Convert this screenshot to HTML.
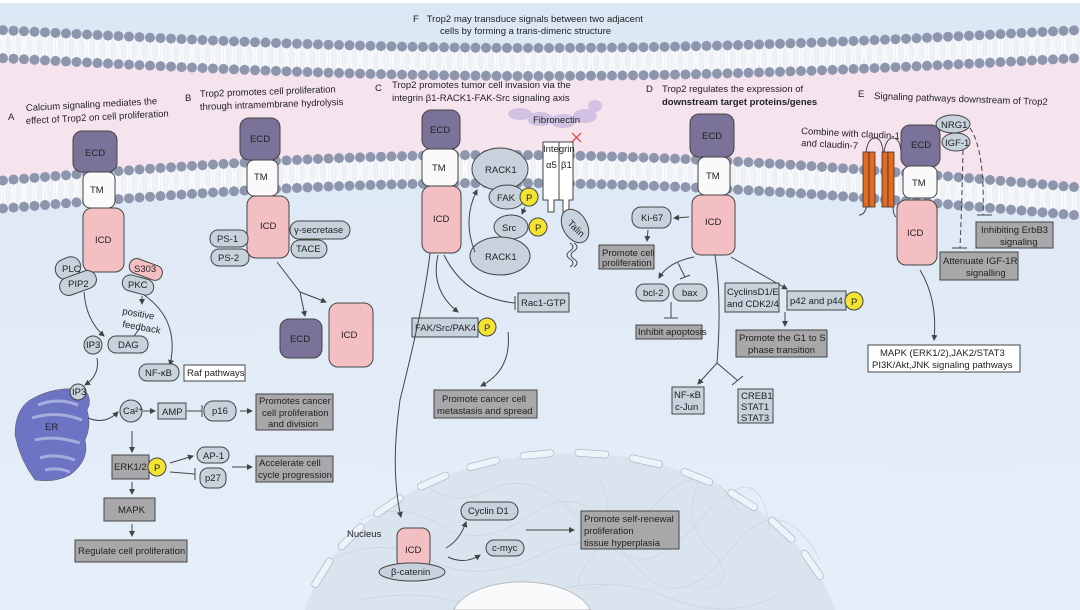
<!DOCTYPE html>
<html><head><meta charset="utf-8"><style>
html,body{margin:0;padding:0;background:#e2ecf7;width:1080px;height:610px;overflow:hidden}
svg{display:block}
text{font-family:"Liberation Sans",sans-serif;font-size:9.5px;fill:#222}
.p{fill:#c7d2dd;stroke:#444;stroke-width:1}
.g{fill:#a8a8aa;stroke:#444;stroke-width:1}
.w{fill:#fff;stroke:#444;stroke-width:1}
.e{fill:#7b7299;stroke:#444;stroke-width:1}
.t{fill:#fafafa;stroke:#444;stroke-width:1}
.i{fill:#f3bfc3;stroke:#444;stroke-width:1}
.y{fill:#f4e431;stroke:#444;stroke-width:1}
.l{fill:none;stroke:#444;stroke-width:1}
</style></head><body>
<svg id="s" width="1080" height="610" viewBox="0 0 1080 610" xmlns="http://www.w3.org/2000/svg">
<defs>
<marker id="a" markerWidth="6" markerHeight="6" refX="5" refY="3" orient="auto"><path d="M0,0 L6,3 L0,6 z" fill="#444"/></marker>
<linearGradient id="bg" x1="0" y1="0" x2="0" y2="1"><stop offset="0" stop-color="#dbe7f4"/><stop offset="1" stop-color="#e6eff9"/></linearGradient>
</defs>
<rect width="1080" height="610" fill="url(#bg)"/>
<rect x="0" y="0" width="1080" height="3" fill="#fff"/>
<path id="pink" fill="#f5e4ee" d=""/>
<g id="mem"></g>
<!-- nucleus -->
<path d="M304.4,610 A275,212 0 0,1 835.6,610 Z" fill="#d6e0eb" opacity="0.75"/>
<g stroke="#c8d2de" stroke-width="0.7" fill="none" opacity="0.9">
<path d="M360,520 q40,-20 80,5 t90,-10 t80,20 t90,-15 t70,10"/><path d="M330,560 q50,-25 100,0 t110,-5 t100,15 t90,-20 t90,10"/><path d="M420,480 q30,30 70,10 t80,20 t90,-10 t80,15"/><path d="M360,600 q50,-10 90,0 t100,-8 t120,6 t110,-4"/><path d="M600,480 q20,40 -10,80 t15,25"/><path d="M700,480 q-20,40 10,70 t-5,40"/>
</g>
<path d="M453.7,610 A70,36 0 0,1 590.3,610 Z" fill="#f8fafc" stroke="#bbb"/>
<g id="nuc" fill="#eef3f9" stroke="#b3bcc8" stroke-width="0.8"></g>
<!-- F title -->
<text x="413" y="22">F&#160;&#160;&#160;Trop2 may transduce signals between two adjacent</text>
<text x="440" y="34">cells by forming a trans-dimeric structure</text>
<!-- A -->
<text x="8" y="120">A</text>
<text x="26" y="111" transform="rotate(-3 26 111)">Calcium signaling mediates the</text>
<text x="26" y="124" transform="rotate(-3 26 124)">effect of Trop2 on cell proliferation</text>
<rect class="e" x="73" y="131" width="44" height="41" rx="9"/><text x="85" y="156">ECD</text>
<rect class="t" x="83" y="172" width="32" height="36" rx="7"/><text x="90" y="193">TM</text>
<rect class="i" x="83" y="208" width="41" height="64" rx="9"/><text x="95" y="243">ICD</text>
<rect class="p" x="55" y="258" width="26" height="20" rx="10" transform="rotate(-25 68 268)"/><text x="62" y="272" font-size="8.5">PLC</text>
<rect class="p" x="59" y="274" width="38" height="18" rx="9" transform="rotate(-20 78 283)"/><text x="68" y="287" font-size="8.5">PIP2</text>
<rect class="i" x="129" y="262" width="34" height="15" rx="7" transform="rotate(20 146 269)"/><text x="134" y="272" font-size="8.5">S303</text>
<rect class="p" x="122" y="277" width="32" height="16" rx="8" transform="rotate(15 138 285)"/><text x="128" y="288" font-size="8.5">PKC</text>
<path class="l" d="M84,292 Q86,320 104,336" marker-end="url(#a)"/>
<path class="l" d="M144,295 Q180,320 170,365" marker-end="url(#a)"/>
<path class="l" d="M142,296 L142,304" marker-end="url(#a)"/>
<text x="122" y="314" font-size="8.5" transform="rotate(10 122 314)">positive</text>
<text x="122" y="327" font-size="8.5" transform="rotate(10 122 327)">feedback</text>
<circle class="p" cx="93" cy="345" r="9"/><text x="86" y="348" font-size="7.5">IP3</text>
<rect class="p" x="108" y="336" width="40" height="17" rx="8"/><text x="118" y="348">DAG</text>
<path class="l" d="M134,336 L140,328"/>
<path class="l" d="M97,358 Q100,375 85,385" marker-end="url(#a)"/>
<rect class="p" x="139" y="364" width="40" height="17" rx="8"/><text x="145" y="376">NF-κB</text>
<rect class="w" x="184" y="365" width="61" height="16"/><text x="187" y="376">Raf pathways</text>
<path fill="#6e74c4" stroke="#555" stroke-width="0.5" d="M30,400 q25,-15 55,-10 q8,10 2,20 q5,15 -2,30 q5,20 -15,35 q-15,8 -35,5 q-15,-20 -20,-45 q0,-25 15,-35z"/>
<g stroke="#a6acde" stroke-width="3" fill="none"><path d="M38,405 q20,-8 40,0"/><path d="M32,418 q25,-8 50,2"/><path d="M35,440 q20,-5 45,3"/><path d="M40,458 q15,-5 35,2"/><path d="M45,470 q12,-3 25,2"/></g>
<text x="45" y="430" fill="#222">ER</text>
<circle class="p" cx="78" cy="392" r="8"/><text x="72" y="395" font-size="7">IP3</text>
<path class="l" d="M88,418 Q105,425 118,412" marker-end="url(#a)"/>
<circle class="p" cx="131" cy="411" r="11"/><text x="123" y="414" font-size="8">Ca²⁺</text>
<path class="l" d="M143,411 L155,411" marker-end="url(#a)"/>
<rect class="p" x="158" y="403" width="28" height="16"/><text x="162" y="415">AMP</text>
<path class="l" d="M187,411 L202,411 M202,405 L202,417"/>
<rect class="p" x="204" y="401" width="32" height="20" rx="9"/><text x="212" y="414">p16</text>
<path class="l" d="M240,411 L252,411" marker-end="url(#a)"/>
<rect class="g" x="256" y="394" width="77" height="36"/><text x="259" y="404">Promotes cancer</text><text x="262" y="416">cell proliferation</text><text x="268" y="427">and division</text>
<path class="l" d="M132,431 L132,452" marker-end="url(#a)"/>
<rect class="g" x="112" y="455" width="37" height="24"/><text x="114" y="470">ERK1/2</text>
<circle class="y" cx="157" cy="467" r="9"/><text x="154" y="471">P</text>
<path class="l" d="M170,463 L193,456" marker-end="url(#a)"/>
<path class="l" d="M170,472 L195,474 M195,468 L195,480"/>
<rect class="p" x="197" y="447" width="32" height="16" rx="8"/><text x="203" y="459">AP-1</text>
<rect class="p" x="200" y="468" width="26" height="20" rx="8"/><text x="205" y="481">p27</text>
<path class="l" d="M232,467 L252,467" marker-end="url(#a)"/>
<rect class="g" x="256" y="456" width="77" height="26"/><text x="259" y="466">Accelerate cell</text><text x="258" y="478">cycle progression</text>
<path class="l" d="M132,482 L132,494" marker-end="url(#a)"/>
<rect class="g" x="104" y="498" width="51" height="23"/><text x="118" y="513">MAPK</text>
<path class="l" d="M132,524 L132,536" marker-end="url(#a)"/>
<rect class="g" x="75" y="540" width="112" height="22"/><text x="78" y="554">Regulate cell proliferation</text>
<!-- B -->
<text x="185" y="101">B</text>
<text x="200" y="97" transform="rotate(-2 200 97)">Trop2 promotes cell proliferation</text>
<text x="200" y="110" transform="rotate(-2 200 110)">through intramembrane hydrolysis</text>
<rect class="e" x="240" y="118" width="40" height="42" rx="9"/><text x="250" y="142">ECD</text>
<rect class="t" x="247" y="160" width="31" height="36" rx="7"/><text x="254" y="180">TM</text>
<rect class="i" x="247" y="196" width="42" height="62" rx="9"/><text x="260" y="229">ICD</text>
<rect class="p" x="210" y="230" width="38" height="17" rx="8"/><text x="217" y="242">PS-1</text>
<rect class="p" x="211" y="249" width="38" height="17" rx="8"/><text x="218" y="261">PS-2</text>
<rect class="p" x="290" y="221" width="60" height="18" rx="9"/><text x="294" y="233">γ-secretase</text>
<rect class="p" x="291" y="240" width="36" height="18" rx="9"/><text x="296" y="252">TACE</text>
<path class="l" d="M277,262 L300,292 L305,316" marker-end="url(#a)"/>
<path class="l" d="M300,292 L326,302" marker-end="url(#a)"/>
<rect class="e" x="280" y="319" width="42" height="39" rx="9"/><text x="290" y="342">ECD</text>
<rect class="i" x="329" y="303" width="44" height="64" rx="9"/><text x="341" y="338">ICD</text>
<!-- C -->
<text x="375" y="91">C</text>
<text x="392" y="88">Trop2 promotes tumor cell invasion via the</text>
<text x="392" y="101">integrin β1-RACK1-FAK-Src signaling axis</text>
<g fill="#cbbde3" opacity="0.85"><ellipse cx="520" cy="114" rx="12" ry="6"/><ellipse cx="540" cy="119" rx="13" ry="7"/><ellipse cx="563" cy="121" rx="13" ry="7"/><ellipse cx="585" cy="116" rx="12" ry="7"/><ellipse cx="595" cy="106" rx="7" ry="6"/></g>
<text x="533" y="123">Fibronectin</text>
<path d="M572,133 L581,142 M581,133 L572,142" stroke="#e33" stroke-width="1.2"/>
<rect class="e" x="422" y="110" width="38" height="39" rx="9"/><text x="430" y="133">ECD</text>
<rect class="t" x="422" y="149" width="36" height="37" rx="7"/><text x="432" y="171">TM</text>
<rect class="i" x="422" y="186" width="39" height="67" rx="9"/><text x="433" y="222">ICD</text>
<ellipse class="p" cx="500" cy="169" rx="28" ry="21"/><text x="485" y="173">RACK1</text>
<ellipse class="p" cx="507" cy="197" rx="18" ry="12"/><text x="497" y="201">FAK</text>
<circle class="y" cx="529" cy="197" r="9"/><text x="526" y="201">P</text>
<path class="l" d="M525,207 L522,214" marker-end="url(#a)"/>
<ellipse class="p" cx="511" cy="227" rx="17" ry="12"/><text x="502" y="231">Src</text>
<circle class="y" cx="538" cy="227" r="9"/><text x="535" y="231">P</text>
<ellipse class="p" cx="500" cy="256" rx="30" ry="19"/><text x="485" y="260">RACK1</text>
<path class="l" d="M475,252 Q462,220 477,190" marker-end="url(#a)"/>
<path fill="#fff" stroke="#444" d="M543,142 h16 v58 h-5 v12 h-6 v-12 h-5z"/>
<path fill="#fff" stroke="#444" d="M559,142 h14 v58 h-4 v12 h-6 v-12 h-4z"/>
<text x="543" y="152" font-size="9">Integrin</text>
<text x="546" y="168" font-size="9">α5</text><text x="561" y="168" font-size="9">β1</text>
<ellipse class="p" cx="575" cy="226" rx="12" ry="18" transform="rotate(-30 575 226)"/><text x="567" y="228" font-size="8" transform="rotate(45 572 226)">Talin</text>
<path class="l" d="M570,243 q6,4 0,8 q-6,4 0,8 q6,4 0,8 M574,243 q6,4 0,8 q-6,4 0,8 q6,4 0,8"/>
<path class="l" d="M438,255 Q430,290 458,312" marker-end="url(#a)"/>
<path class="l" d="M444,255 Q465,298 515,303 M515,296 L515,310"/>
<rect class="p" x="518" y="293" width="51" height="19"/><text x="521" y="306">Rac1-GTP</text>
<rect class="p" x="412" y="318" width="66" height="19"/><text x="415" y="331">FAK/Src/PAK4</text>
<circle class="y" cx="487" cy="327" r="9"/><text x="484" y="331">P</text>
<path class="l" d="M508,332 Q512,370 481,386" marker-end="url(#a)"/>
<rect class="g" x="434" y="390" width="103" height="28"/><text x="442" y="402">Promote cancer cell</text><text x="437" y="414">metastasis and spread</text>
<path class="l" d="M430,253 Q425,300 400,400 Q390,470 401,517" marker-end="url(#a)"/>
<!-- nucleus content -->
<text x="347" y="537">Nucleus</text>
<rect class="i" x="397" y="528" width="33" height="40" rx="8"/><text x="405" y="553">ICD</text>
<ellipse class="p" cx="412" cy="572" rx="33" ry="9"/><text x="391" y="575">β-catenin</text>
<path class="l" d="M446,548 Q460,540 466,522" marker-end="url(#a)"/>
<path class="l" d="M448,557 Q465,565 480,555" marker-end="url(#a)"/>
<rect class="p" x="461" y="502" width="57" height="18" rx="9"/><text x="468" y="514">Cyclin D1</text>
<rect class="p" x="486" y="540" width="38" height="16" rx="8"/><text x="492" y="551">c-myc</text>
<path class="l" d="M526,530 L574,530" marker-end="url(#a)"/>
<rect class="g" x="581" y="511" width="98" height="38"/><text x="584" y="522">Promote self-renewal</text><text x="584" y="534">proliferation</text><text x="584" y="546">tissue hyperplasia</text>
<!-- D -->
<text x="646" y="92">D</text>
<text x="662" y="92">Trop2 regulates the expression of</text>
<text x="662" y="105" font-weight="bold" fill="#333">downstream target proteins/genes</text>
<rect class="e" x="690" y="114" width="44" height="43" rx="9"/><text x="702" y="139">ECD</text>
<rect class="t" x="698" y="157" width="32" height="38" rx="7"/><text x="706" y="179">TM</text>
<rect class="i" x="692" y="195" width="43" height="60" rx="9"/><text x="705" y="225">ICD</text>
<path class="l" d="M689,217 L674,218" marker-end="url(#a)"/>
<rect class="p" x="632" y="207" width="39" height="21" rx="9"/><text x="641" y="221">Ki-67</text>
<path class="l" d="M648,230 L647,241" marker-end="url(#a)"/>
<rect class="g" x="599" y="245" width="55" height="24"/><text x="602" y="256">Promote cell</text><text x="602" y="266">proliferation</text>
<path class="l" d="M694,257 Q668,262 659,278" marker-end="url(#a)"/>
<path class="l" d="M678,263 L685,277 M680,279 L690,275"/>
<rect class="p" x="636" y="284" width="33" height="17" rx="8"/><text x="643" y="296">bcl-2</text>
<rect class="p" x="673" y="284" width="34" height="17" rx="8"/><text x="682" y="296">bax</text>
<path class="l" d="M671,302 L671,318 M664,318 L678,318"/>
<rect class="g" x="636" y="325" width="66" height="14"/><text x="638" y="335">Inhibit apoptosis</text>
<path class="l" d="M715,255 Q722,300 717,363 L698,384" marker-end="url(#a)"/>
<path class="l" d="M717,363 L737,380 M732,385 L743,376"/>
<rect class="p" x="672" y="387" width="32" height="27"/><text x="674" y="398">NF-κB</text><text x="675" y="410">c-Jun</text>
<rect class="p" x="738" y="389" width="35" height="34"/><text x="741" y="399">CREB1</text><text x="741" y="410">STAT1</text><text x="741" y="421">STAT3</text>
<path class="l" d="M731,257 L787,289" marker-end="url(#a)"/>
<rect class="p" x="725" y="283" width="54" height="29"/><text x="727" y="295">CyclinsD1/E</text><text x="727" y="307">and CDK2/4</text>
<rect class="p" x="787" y="291" width="59" height="19"/><text x="790" y="304">p42 and p44</text>
<circle class="y" cx="854" cy="301" r="9"/><text x="851" y="305">P</text>
<path class="l" d="M785,312 L785,326" marker-end="url(#a)"/>
<rect class="g" x="736" y="330" width="91" height="27"/><text x="739" y="341">Promote the G1 to S</text><text x="748" y="353">phase transition</text>
<!-- E -->
<text x="858" y="97">E</text>
<text x="874" y="99" transform="rotate(2 874 99)">Signaling pathways downstream of Trop2</text>
<text x="801" y="134" transform="rotate(3 801 134)">Combine with claudin-1</text>
<text x="801" y="146" transform="rotate(3 801 146)">and claudin-7</text>
<path class="l" d="M866,152 q2,-14 9,-14 q7,0 8,14 M884,152 q2,-14 9,-14 q7,0 8,14 M867,205 q-2,10 -8,10 M893,205 q0,10 3,12"/>
<g fill="#e36a1e" stroke="#333" stroke-width="0.8"><rect x="863" y="152" width="6" height="55"/><rect x="869" y="152" width="6" height="55"/><rect x="882" y="152" width="6" height="55"/><rect x="888" y="152" width="6" height="55"/></g>
<rect class="e" x="901" y="125" width="39" height="42" rx="9"/><text x="911" y="148">ECD</text>
<rect class="t" x="903" y="166" width="34" height="32" rx="7"/><text x="912" y="186">TM</text>
<rect class="i" x="897" y="200" width="40" height="65" rx="9"/><text x="907" y="236">ICD</text>
<ellipse class="p" cx="953" cy="124" rx="17" ry="9"/><text x="941" y="128" font-size="9">NRG1</text>
<ellipse class="p" cx="956" cy="142" rx="14" ry="9"/><text x="945" y="146" font-size="9">IGF-1</text>
<path d="M970,128 Q985,150 983,215 M963,150 Q962,200 960,248" fill="none" stroke="#444" stroke-dasharray="5,3"/>
<path class="l" d="M977,215 L992,215 M952,248 L967,248"/>
<rect class="g" x="976" y="222" width="77" height="26"/><text x="981" y="233">Inhibiting ErbB3</text><text x="1000" y="245">signaling</text>
<rect class="g" x="940" y="252" width="78" height="28"/><text x="943" y="264">Attenuate IGF-1R</text><text x="966" y="276">signalling</text>
<path class="l" d="M920,270 Q938,300 934,340" marker-end="url(#a)"/>
<rect class="w" x="868" y="345" width="152" height="27"/><text x="880" y="356">MAPK (ERK1/2),JAK2/STAT3</text><text x="872" y="368">PI3K/Akt,JNK signaling pathways</text>
</svg>
<script>
(function(){
var ns="http://www.w3.org/2000/svg",m=document.getElementById("mem");
function y1(x){return 44+18*Math.sin(Math.PI*x/1080);}
function y2(x){return 199-30*Math.sin(Math.PI*(x+50)/1100);}
var d="M0,"+(y1(0)+14);
for(var x=0;x<=1080;x+=20)d+=" L"+x+","+(y1(x)+14);
for(var x=1080;x>=0;x-=20)d+=" L"+x+","+y2(x);
document.getElementById("pink").setAttribute("d",d+"z");
function band(f,h){
 for(var x=3;x<=1076;x+=10.5){
  var c=f(x);
  var l=document.createElementNS(ns,"path");
  l.setAttribute("d","M"+(x-2)+","+(c-h+4)+" L"+(x-1)+","+(c-2)+" L"+(x-2)+","+(c+h-4)+" M"+(x+2)+","+(c-h+4)+" L"+(x+1)+","+(c-2)+" L"+(x+2)+","+(c+h-4));
  l.setAttribute("stroke","#fff");l.setAttribute("stroke-width","1.2");l.setAttribute("fill","none");m.appendChild(l);
  [c-h,c+h].forEach(function(yy){var k=document.createElementNS(ns,"circle");k.setAttribute("cx",x);k.setAttribute("cy",yy);k.setAttribute("r",5);k.setAttribute("fill","#8d96ad");m.appendChild(k);});
 }
}
function fill(f,h){var p="M0,"+(f(0)-h);for(var x=0;x<=1080;x+=20)p+=" L"+x+","+(f(x)-h);for(var x=1080;x>=0;x-=20)p+=" L"+x+","+(f(x)+h);var e=document.createElementNS(ns,"path");e.setAttribute("d",p+"z");e.setAttribute("fill","#eef1f6");m.appendChild(e);}
fill(y1,14);fill(y2,14);
band(y1,14);band(y2,14);
var g=document.getElementById("nuc");
var CX=570,CY=665,RX=275,RY=212;
for(var t=0.25;t<=Math.PI-0.2;t+=0.2){
 var cx=CX-RX*Math.cos(t),cy=CY-RY*Math.sin(t);
 if(cy>592)continue;
 var ang=Math.atan2(RY*Math.cos(t),RX*Math.sin(t))*180/Math.PI;
 var r=document.createElementNS(ns,"rect");
 r.setAttribute("x",cx-17);r.setAttribute("y",cy-3.5);r.setAttribute("width",34);r.setAttribute("height",7);r.setAttribute("rx",3.5);
 r.setAttribute("transform","rotate("+(-ang)+" "+cx+" "+cy+")");g.appendChild(r);
}
})();
</script>
</body></html>
